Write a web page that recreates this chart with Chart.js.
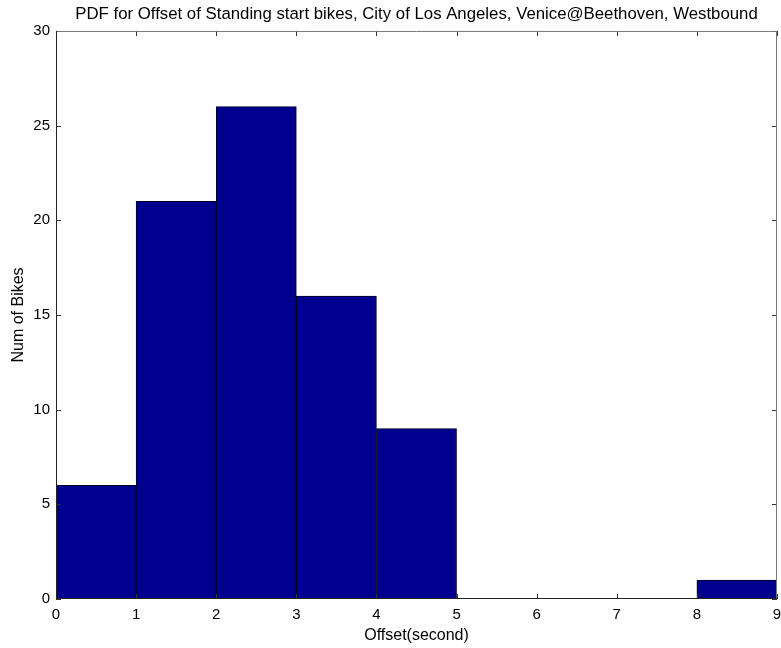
<!DOCTYPE html>
<html>
<head>
<meta charset="utf-8">
<script src="https://cdn.jsdelivr.net/npm/chart.js@4"></script>
<style>
  body { margin: 0; background: #fff; }
  canvas { display: block; }
</style>
</head>
<body>
<canvas id="chart" width="781" height="648"></canvas>
<script>
// ---------------- DATA ----------------
const binCenters = [0.5, 1.5, 2.5, 3.5, 4.5, 5.5, 6.5, 7.5, 8.5];
const bikeCounts = [6, 21, 26, 16, 9, 0, 0, 0, 1];
const xTicks = [0, 1, 2, 3, 4, 5, 6, 7, 8, 9];
const yTicks = [0, 5, 10, 15, 20, 25, 30];

const titleText = "PDF for Offset of Standing start bikes, City of Los Angeles, Venice@Beethoven, Westbound";
const family = "'Liberation Sans', Arial, sans-serif";
const tickFont = { family: family, size: 15 };
const labelFont = { family: family, size: 16 };

// inward tick marks + box like matlab axes
const boxTicks = {
  id: "boxTicks",
  afterDatasetsDraw(chart) {
    const { ctx, chartArea: a, scales } = chart;
    const len = 5;
    ctx.save();
    ctx.strokeStyle = "#333";
    ctx.lineWidth = 1;
    ctx.beginPath();
    xTicks.forEach(v => {
      const px = Math.round(scales.x.getPixelForValue(v)) + 0.5;
      ctx.moveTo(px, a.bottom); ctx.lineTo(px, a.bottom - len);
      ctx.moveTo(px, a.top); ctx.lineTo(px, a.top + len);
    });
    yTicks.forEach(v => {
      const py = Math.round(scales.y.getPixelForValue(v)) + 0.5;
      ctx.moveTo(a.left, py); ctx.lineTo(a.left + len, py);
      ctx.moveTo(a.right, py); ctx.lineTo(a.right - len, py);
    });
    ctx.stroke();
    // top + right edges lighter, left + bottom dark
    ctx.strokeStyle = "#777";
    ctx.beginPath();
    ctx.moveTo(a.left, a.top + 0.5); ctx.lineTo(a.right, a.top + 0.5);
    ctx.moveTo(a.right - 0.5, a.top); ctx.lineTo(a.right - 0.5, a.bottom);
    ctx.stroke();
    ctx.strokeStyle = "#222";
    ctx.beginPath();
    ctx.moveTo(a.left + 0.5, a.top); ctx.lineTo(a.left + 0.5, a.bottom);
    ctx.moveTo(a.left, a.bottom - 0.5); ctx.lineTo(a.right, a.bottom - 0.5);
    ctx.stroke();
    ctx.restore();
  }
};

new Chart(document.getElementById("chart"), {
  type: "bar",
  data: {
    datasets: [{
      data: binCenters.map((x, i) => ({ x: x, y: bikeCounts[i] })),
      backgroundColor: "#00008F",
      borderColor: "#00002A",
      borderWidth: 1,
      barPercentage: 1,
      categoryPercentage: 1
    }]
  },
  options: {
    responsive: false,
    animation: false,
    layout: { padding: 0 },
    plugins: {
      legend: { display: false },
      tooltip: { enabled: false },
      title: {
        display: true,
        fullSize: false,
        text: titleText,
        color: "#000",
        font: { family: family, size: 16.8, weight: "normal" },
        padding: { top: 4.4, bottom: 6.4 }
      }
    },
    scales: {
      x: {
        type: "linear",
        min: 0,
        max: 9,
        offset: false,
        afterBuildTicks: s => { s.ticks = xTicks.map(v => ({ value: v })); },
        afterFit: s => { s.height = 49; s.paddingRight = 4; s.paddingLeft = 0; },
        grid: { display: false, drawTicks: false },
        border: { display: false },
        ticks: { color: "#000", font: tickFont, padding: 7, maxRotation: 0, autoSkip: false },
        title: { display: true, text: "Offset(second)", color: "#000", font: labelFont, padding: { top: 0, bottom: 3 } }
      },
      y: {
        min: 0,
        max: 30,
        afterBuildTicks: s => { s.ticks = yTicks.map(v => ({ value: v })); },
        afterFit: s => { s.width = 56; },
        grid: { display: false, drawTicks: false },
        border: { display: false },
        ticks: { color: "#000", font: tickFont, padding: 6 },
        title: { display: true, text: "Num of Bikes", color: "#000", font: labelFont, padding: { top: 9.4, bottom: 0 } }
      }
    }
  },
  plugins: [boxTicks]
});
</script>
</body>
</html>
